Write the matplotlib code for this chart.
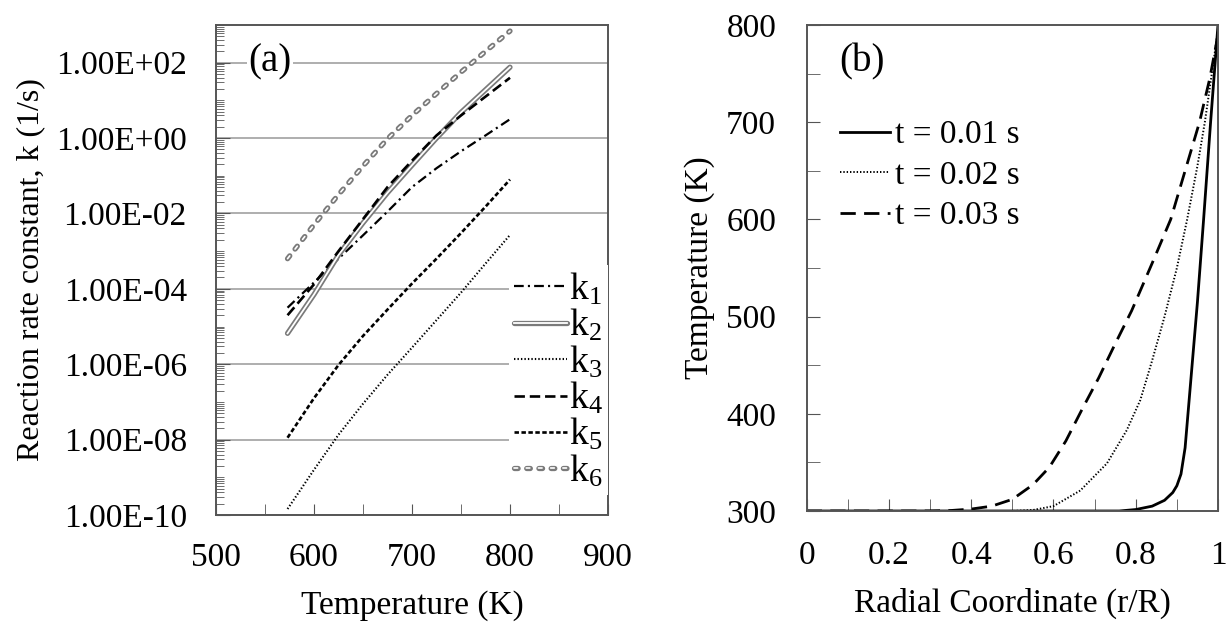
import matplotlib
matplotlib.use('Agg')
import matplotlib.pyplot as plt
import matplotlib.patheffects as pe
from matplotlib.ticker import FixedLocator, LogLocator, NullFormatter, FuncFormatter
import numpy as np

plt.rcParams['font.family'] = ['Liberation Serif', 'DejaVu Serif']
plt.rcParams['mathtext.fontset'] = 'custom'
plt.rcParams['mathtext.rm'] = 'Liberation Serif'
plt.rcParams['lines.scale_dashes'] = False

# ---- panel (a): rate constants vs temperature (log10 of k, 1/s)
temp_a = [573, 600, 625, 650, 675, 700, 725, 750, 775, 800]
log_k1 = [-4.5, -3.83, -3.2, -2.58, -1.95, -1.3, -0.8, -0.35, 0.07, 0.5]
log_k2 = [-5.18, -4.15, -3.1, -2.25, -1.45, -0.72, 0.0, 0.68, 1.28, 1.88]
log_k3 = [-9.84, -8.8, -7.87, -7.05, -6.28, -5.56, -4.83, -4.1, -3.33, -2.57]
log_k4 = [-4.7, -3.88, -3.0, -2.15, -1.3, -0.6, 0.07, 0.6, 1.1, 1.6]
log_k5 = [-7.95, -6.9, -6.02, -5.25, -4.55, -3.86, -3.2, -2.52, -1.82, -1.1]
log_k6 = [-3.2, -2.3, -1.5, -0.74, -0.02, 0.6, 1.18, 1.75, 2.3, 2.84]
k_labels = ['k_1', 'k_2', 'k_3', 'k_4', 'k_5', 'k_6']
a_xticks = [500, 600, 700, 800, 900]
a_yticks = [1e-10, 1e-8, 1e-6, 1e-4, 1e-2, 1e0, 1e2]

# ---- panel (b): temperature profiles vs radial coordinate
r_t1 = [0, 0.3, 0.6, 0.76, 0.8, 0.84, 0.87, 0.89, 0.9, 0.91, 0.92, 0.935, 0.95, 0.965, 0.982, 1.0]
T_t1 = [300, 300, 300, 300, 301.5, 305, 311, 319, 326, 338, 365, 440, 515, 600, 700, 800]
r_t2 = [0, 0.5, 0.55, 0.6, 0.665, 0.73, 0.778, 0.811, 0.84, 0.87, 0.9, 0.925, 0.95, 0.968, 0.985, 1.0]
T_t2 = [300, 300, 301, 305, 321, 349, 383, 414, 455, 500, 550, 600, 655, 700, 750, 795]
r_t3 = [0, 0.3, 0.35, 0.4, 0.45, 0.5, 0.55, 0.59, 0.63, 0.67, 0.71, 0.75, 0.79, 0.84, 0.885, 0.92, 0.955, 0.98, 1.0]
T_t3 = [300, 300, 300.5, 302, 305, 312, 327, 345, 372, 405, 437, 472, 506, 555, 600, 650, 700, 745, 790]
t_labels = ['t = 0.01 s', 't = 0.02 s', 't = 0.03 s']
b_xticks = [0, 0.2, 0.4, 0.6, 0.8, 1.0]
b_xlabels = ['0', '0.2', '0.4', '0.6', '0.8', '1']
b_yticks = [300, 400, 500, 600, 700, 800]

spine_c = '#555555'
grid_c = '#a8a8a8'

fig = plt.figure(figsize=(12.3, 6.25), dpi=100)
ax_a = fig.add_axes([216 / 1230, 110 / 625, 392 / 1230, 490 / 625])
ax_b = fig.add_axes([806.7 / 1230, 114 / 625, 411.3 / 1230, 486 / 625])

# hollow (outlined) line look for k2 and k6
hollow = [pe.Stroke(linewidth=3.8, foreground='#7a7a7a', capstyle='round'), pe.Normal()]

styles = [
    dict(color='black', lw=1.6, dashes=(7, 3, 1.5, 3)),
    dict(color='white', lw=1.3, path_effects=hollow),
    dict(color='black', lw=1.5, dashes=(1, 1.5)),
    dict(color='black', lw=1.9, dashes=(7.5, 3.5)),
    dict(color='black', lw=1.9, dashes=(3.2, 1.8)),
    dict(color='white', lw=1.2, dashes=(2.6, 6.2), dash_capstyle='round', path_effects=hollow),
]
series = [log_k1, log_k2, log_k3, log_k4, log_k5, log_k6]
for vals, lab, st in zip(series, k_labels, styles):
    ax_a.plot(temp_a, 10 ** np.array(vals), label=r'$\mathregular{' + lab + '}$', **st)

ax_a.set_yscale('log')
ax_a.set_xlim(500, 900)
ax_a.set_ylim(1e-10, 1e3)
ax_a.xaxis.set_major_locator(FixedLocator(a_xticks))
ax_a.xaxis.set_minor_locator(FixedLocator([550, 650, 750, 850]))
ax_a.yaxis.set_major_locator(FixedLocator(a_yticks))
ax_a.yaxis.set_minor_locator(LogLocator(base=10, subs=np.arange(1, 10), numticks=200))
ax_a.yaxis.set_minor_formatter(NullFormatter())
ax_a.yaxis.set_major_formatter(FuncFormatter(lambda v, p: f'{v:.2E}'))
ax_a.yaxis.grid(True, which='major', color=grid_c, lw=1.3)
ax_a.set_axisbelow(True)
ax_a.tick_params(which='both', direction='in', top=False, right=False, color=spine_c, labelsize=24)
ax_a.tick_params(axis='y', which='major', length=10, pad=21)
ax_a.tick_params(axis='y', which='minor', length=6)
ax_a.tick_params(axis='x', which='both', length=8, pad=20)
ax_a.set_xlabel('Temperature (K)', fontsize=24, labelpad=12)
ax_a.set_ylabel('Reaction rate constant, k (1/s)', fontsize=23, labelpad=8)
ax_a.text(0.138, 0.924, '(a)', transform=ax_a.transAxes, fontsize=28, ha='center', va='center',
          bbox=dict(facecolor='white', edgecolor='none', pad=1))
ax_a.legend(loc='center right', bbox_to_anchor=(1.0, 0.275), fontsize=27, handlelength=1.4,
            handletextpad=0.05, labelspacing=0.0, borderpad=0.15, borderaxespad=0,
            frameon=True, fancybox=False, framealpha=1, edgecolor='none')

# ---- panel (b)
ax_b.plot(r_t1, T_t1, color='black', lw=2.0, label=t_labels[0])
ax_b.plot(r_t2, T_t2, color='black', lw=1.4, dashes=(1, 1.4), label=t_labels[1])
ax_b.plot(r_t3, T_t3, color='black', lw=2.0, dashes=(11, 6), label=t_labels[2])
ax_b.set_xlim(0, 1)
ax_b.set_ylim(300, 800)
ax_b.set_xticks(b_xticks)
ax_b.set_xticklabels(b_xlabels)
ax_b.set_xticks(np.arange(0.1, 1.0, 0.2), minor=True)
ax_b.set_yticks(b_yticks)
ax_b.set_yticks([350, 450, 550, 650, 750], minor=True)
ax_b.tick_params(which='both', direction='in', top=False, right=False, color=spine_c, labelsize=24, length=9)
ax_b.tick_params(axis='y', which='both', pad=22)
ax_b.tick_params(axis='x', which='both', pad=21)
ax_b.set_xlabel('Radial Coordinate (r/R)', fontsize=24, labelpad=12)
ax_b.set_ylabel('Temperature (K)', fontsize=24, labelpad=8)
ax_b.text(0.135, 0.925, '(b)', transform=ax_b.transAxes, fontsize=28, ha='center', va='center')
ax_b.legend(loc='upper left', bbox_to_anchor=(0.08, 0.805), fontsize=24, handlelength=1.5,
            handletextpad=0.15, labelspacing=0.3, borderpad=0, borderaxespad=0, frameon=False)

for ax in (ax_a, ax_b):
    for s in ax.spines.values():
        s.set_color(spine_c)
        s.set_linewidth(1.4)

fig.savefig('out.png', dpi=100, facecolor='white')
